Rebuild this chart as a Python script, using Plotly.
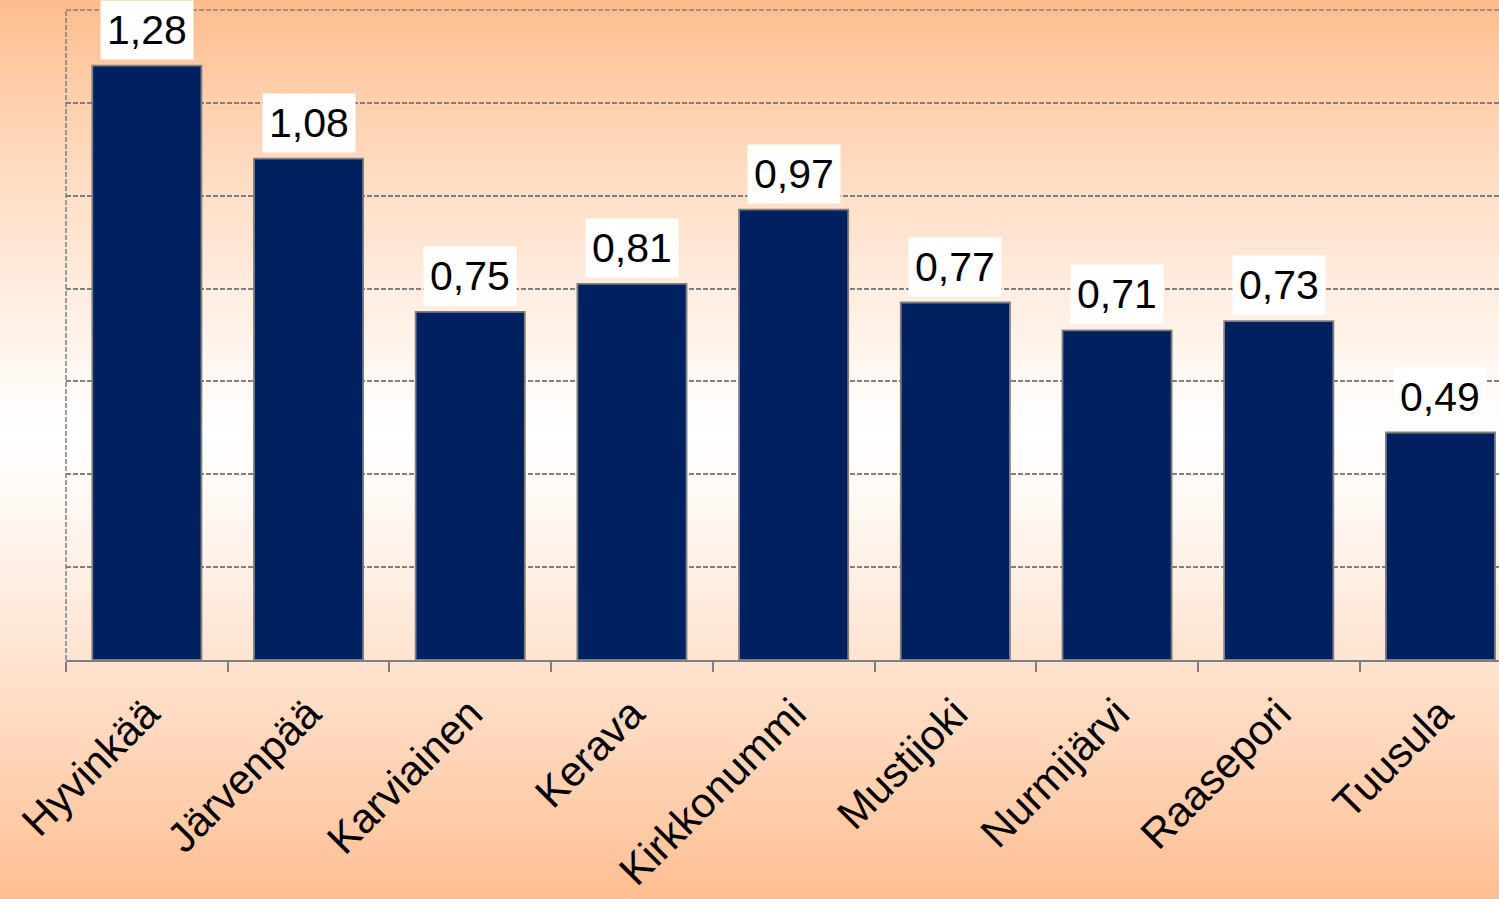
import plotly.graph_objects as go

categories = ["Hyvinkää", "Järvenpää", "Karviainen", "Kerava", "Kirkkonummi",
              "Mustijoki", "Nurmijärvi", "Raasepori", "Tuusula"]
values = [1.28, 1.08, 0.75, 0.81, 0.97, 0.77, 0.71, 0.73, 0.49]
labels = [f"{v:.2f}".replace(".", ",") for v in values]

FONT = "Liberation Sans, Arial, sans-serif"

fig = go.Figure()
fig.add_trace(go.Bar(
    x=categories, y=values,
    marker=dict(color="#002060", line=dict(color="#7f7f7f", width=1.8)),
    width=0.675,
    hoverinfo="skip",
))

for c, v, t in zip(categories, values, labels):
    fig.add_annotation(x=c, y=v, text=t, showarrow=False, yanchor="bottom",
                       yshift=6, bgcolor="white", borderpad=6,
                       font=dict(family=FONT, size=41, color="black"))

# background gradient (orange -> white -> orange), drawn below the plot area
top = (255, 186, 136)
mid = (255, 255, 255)
bot = (255, 190, 146)
n = 90
H, T, B = 899, 10, 239
ph = H - T - B
for k in range(n):
    y0px = H * k / n
    y1px = H * (k + 1) / n + 0.6
    yc = (y0px + y1px) / 2
    m = 430.0
    if yc < m:
        f = yc / m
        col = tuple(round(top[j] + (mid[j] - top[j]) * f ** 0.8) for j in range(3))
    else:
        f = (yc - m) / (H - m)
        col = tuple(round(mid[j] + (bot[j] - mid[j]) * f ** 1.2) for j in range(3))
    p0 = (H - B - y1px) / ph
    p1 = (H - B - y0px) / ph
    fig.add_shape(type="rect", xref="paper", yref="paper",
                  x0=-66 / 1433 - 0.01, x1=1.01, y0=p0, y1=p1,
                  fillcolor="rgb(%d,%d,%d)" % col, line=dict(width=0),
                  layer="below")

# dashed left and top borders
fig.add_shape(type="line", xref="paper", yref="paper", x0=0, x1=0, y0=0, y1=1,
              line=dict(color="#7f7f7f", width=1.5, dash="5px,2px"), layer="above")
fig.add_shape(type="line", xref="paper", yref="paper", x0=0, x1=1, y0=1, y1=1,
              line=dict(color="#7f7f7f", width=1.5, dash="5px,2px"), layer="below")

fig.update_layout(
    width=1499, height=899,
    margin=dict(l=66, r=0, t=10, b=239, autoexpand=False),
    paper_bgcolor="rgb(255,200,160)",
    plot_bgcolor="white",
    showlegend=False,
    bargap=0.325,
    xaxis=dict(
        range=[-0.5, 8.362],
        automargin=False,
        tickangle=-45,
        tickfont=dict(family=FONT, size=42, color="black"),
        ticklabelstandoff=10,
        showline=True, linecolor="#7f7f7f", linewidth=2,
        ticks="outside", tickson="boundaries", ticklen=10, tickcolor="#7f7f7f", tickwidth=2,
        showgrid=False,
    ),
    yaxis=dict(
        range=[0, 1.4], dtick=0.2,
        automargin=False,
        showticklabels=False,
        showgrid=True, gridcolor="#7f7f7f", gridwidth=1.5, griddash="5px,2px",
        zeroline=False, showline=False, ticks="",
    ),
)

fig.write_html("out.html",
               config={"displayModeBar": False},
               post_script="document.body.style.margin='0';document.body.style.padding='0';")
